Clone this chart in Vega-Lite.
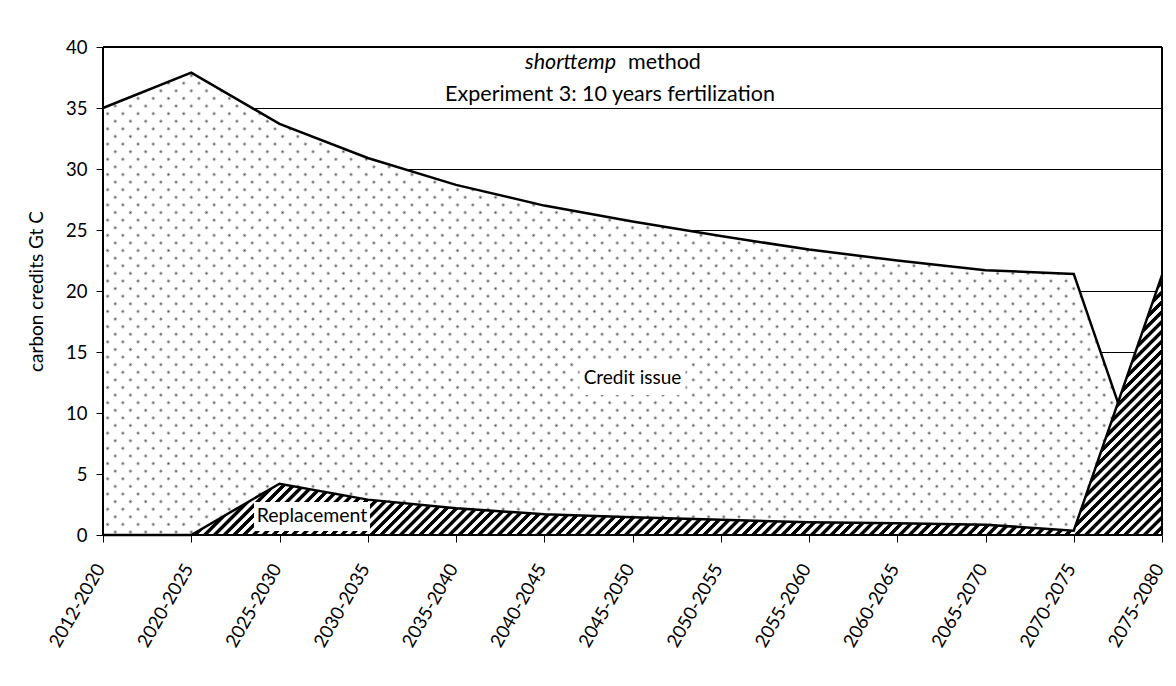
{
"$schema":"https://vega.github.io/schema/vega-lite/v6.json",
"width":1059,"height":488,
"autosize":{"type":"none"},
"padding":{"left":103,"top":47,"right":14,"bottom":151},
"background":"white",
"config":{"view":{"stroke":null},"font":"Lato"},
"data":{"values":[
{"period":"2012-2020","credit":35.0,"replacement":0},
{"period":"2020-2025","credit":37.9,"replacement":0},
{"period":"2025-2030","credit":33.7,"replacement":4.2},
{"period":"2030-2035","credit":30.9,"replacement":2.9},
{"period":"2035-2040","credit":28.7,"replacement":2.2},
{"period":"2040-2045","credit":27.0,"replacement":1.7},
{"period":"2045-2050","credit":25.7,"replacement":1.45},
{"period":"2050-2055","credit":24.5,"replacement":1.25},
{"period":"2055-2060","credit":23.4,"replacement":1.05},
{"period":"2060-2065","credit":22.5,"replacement":0.97},
{"period":"2065-2070","credit":21.7,"replacement":0.85},
{"period":"2070-2075","credit":21.4,"replacement":0.35},
{"period":"2075-2080","credit":0.35,"replacement":21.3}
]},
"layer":[
{"mark":{"type":"area","interpolate":"linear","fill":{"gradient":"linear","x1":0,"y1":0,"x2":1.2066,"y2":0.52683,"stops":[
{"offset":0.00,"color":"#444"},{"offset":0.002,"color":"#fff"},{"offset":0.008,"color":"#fff"},
{"offset":0.01,"color":"#444"},{"offset":0.012,"color":"#fff"},{"offset":0.018,"color":"#fff"},
{"offset":0.02,"color":"#444"},{"offset":0.022,"color":"#fff"},{"offset":0.028,"color":"#fff"},
{"offset":0.03,"color":"#444"},{"offset":0.032,"color":"#fff"},{"offset":0.038,"color":"#fff"},
{"offset":0.04,"color":"#444"},{"offset":0.042,"color":"#fff"},{"offset":0.048,"color":"#fff"},
{"offset":0.05,"color":"#444"},{"offset":0.052,"color":"#fff"},{"offset":0.058,"color":"#fff"},
{"offset":0.06,"color":"#444"},{"offset":0.062,"color":"#fff"},{"offset":0.068,"color":"#fff"},
{"offset":0.07,"color":"#444"},{"offset":0.072,"color":"#fff"},{"offset":0.078,"color":"#fff"},
{"offset":0.08,"color":"#444"},{"offset":0.082,"color":"#fff"},{"offset":0.088,"color":"#fff"},
{"offset":0.09,"color":"#444"},{"offset":0.092,"color":"#fff"},{"offset":0.098,"color":"#fff"},
{"offset":0.10,"color":"#444"},{"offset":0.102,"color":"#fff"},{"offset":0.108,"color":"#fff"},
{"offset":0.11,"color":"#444"},{"offset":0.112,"color":"#fff"},{"offset":0.118,"color":"#fff"},
{"offset":0.12,"color":"#444"},{"offset":0.122,"color":"#fff"},{"offset":0.128,"color":"#fff"},
{"offset":0.13,"color":"#444"},{"offset":0.132,"color":"#fff"},{"offset":0.138,"color":"#fff"},
{"offset":0.14,"color":"#444"},{"offset":0.142,"color":"#fff"},{"offset":0.148,"color":"#fff"},
{"offset":0.15,"color":"#444"},{"offset":0.152,"color":"#fff"},{"offset":0.158,"color":"#fff"},
{"offset":0.16,"color":"#444"},{"offset":0.162,"color":"#fff"},{"offset":0.168,"color":"#fff"},
{"offset":0.17,"color":"#444"},{"offset":0.172,"color":"#fff"},{"offset":0.178,"color":"#fff"},
{"offset":0.18,"color":"#444"},{"offset":0.182,"color":"#fff"},{"offset":0.188,"color":"#fff"},
{"offset":0.19,"color":"#444"},{"offset":0.192,"color":"#fff"},{"offset":0.198,"color":"#fff"},
{"offset":0.20,"color":"#444"},{"offset":0.202,"color":"#fff"},{"offset":0.208,"color":"#fff"},
{"offset":0.21,"color":"#444"},{"offset":0.212,"color":"#fff"},{"offset":0.218,"color":"#fff"},
{"offset":0.22,"color":"#444"},{"offset":0.222,"color":"#fff"},{"offset":0.228,"color":"#fff"},
{"offset":0.23,"color":"#444"},{"offset":0.232,"color":"#fff"},{"offset":0.238,"color":"#fff"},
{"offset":0.24,"color":"#444"},{"offset":0.242,"color":"#fff"},{"offset":0.248,"color":"#fff"},
{"offset":0.25,"color":"#444"},{"offset":0.252,"color":"#fff"},{"offset":0.258,"color":"#fff"},
{"offset":0.26,"color":"#444"},{"offset":0.262,"color":"#fff"},{"offset":0.268,"color":"#fff"},
{"offset":0.27,"color":"#444"},{"offset":0.272,"color":"#fff"},{"offset":0.278,"color":"#fff"},
{"offset":0.28,"color":"#444"},{"offset":0.282,"color":"#fff"},{"offset":0.288,"color":"#fff"},
{"offset":0.29,"color":"#444"},{"offset":0.292,"color":"#fff"},{"offset":0.298,"color":"#fff"},
{"offset":0.30,"color":"#444"},{"offset":0.302,"color":"#fff"},{"offset":0.308,"color":"#fff"},
{"offset":0.31,"color":"#444"},{"offset":0.312,"color":"#fff"},{"offset":0.318,"color":"#fff"},
{"offset":0.32,"color":"#444"},{"offset":0.322,"color":"#fff"},{"offset":0.328,"color":"#fff"},
{"offset":0.33,"color":"#444"},{"offset":0.332,"color":"#fff"},{"offset":0.338,"color":"#fff"},
{"offset":0.34,"color":"#444"},{"offset":0.342,"color":"#fff"},{"offset":0.348,"color":"#fff"},
{"offset":0.35,"color":"#444"},{"offset":0.352,"color":"#fff"},{"offset":0.358,"color":"#fff"},
{"offset":0.36,"color":"#444"},{"offset":0.362,"color":"#fff"},{"offset":0.368,"color":"#fff"},
{"offset":0.37,"color":"#444"},{"offset":0.372,"color":"#fff"},{"offset":0.378,"color":"#fff"},
{"offset":0.38,"color":"#444"},{"offset":0.382,"color":"#fff"},{"offset":0.388,"color":"#fff"},
{"offset":0.39,"color":"#444"},{"offset":0.392,"color":"#fff"},{"offset":0.398,"color":"#fff"},
{"offset":0.40,"color":"#444"},{"offset":0.402,"color":"#fff"},{"offset":0.408,"color":"#fff"},
{"offset":0.41,"color":"#444"},{"offset":0.412,"color":"#fff"},{"offset":0.418,"color":"#fff"},
{"offset":0.42,"color":"#444"},{"offset":0.422,"color":"#fff"},{"offset":0.428,"color":"#fff"},
{"offset":0.43,"color":"#444"},{"offset":0.432,"color":"#fff"},{"offset":0.438,"color":"#fff"},
{"offset":0.44,"color":"#444"},{"offset":0.442,"color":"#fff"},{"offset":0.448,"color":"#fff"},
{"offset":0.45,"color":"#444"},{"offset":0.452,"color":"#fff"},{"offset":0.458,"color":"#fff"},
{"offset":0.46,"color":"#444"},{"offset":0.462,"color":"#fff"},{"offset":0.468,"color":"#fff"},
{"offset":0.47,"color":"#444"},{"offset":0.472,"color":"#fff"},{"offset":0.478,"color":"#fff"},
{"offset":0.48,"color":"#444"},{"offset":0.482,"color":"#fff"},{"offset":0.488,"color":"#fff"},
{"offset":0.49,"color":"#444"},{"offset":0.492,"color":"#fff"},{"offset":0.498,"color":"#fff"},
{"offset":0.50,"color":"#444"},{"offset":0.502,"color":"#fff"},{"offset":0.508,"color":"#fff"},
{"offset":0.51,"color":"#444"},{"offset":0.512,"color":"#fff"},{"offset":0.518,"color":"#fff"},
{"offset":0.52,"color":"#444"},{"offset":0.522,"color":"#fff"},{"offset":0.528,"color":"#fff"},
{"offset":0.53,"color":"#444"},{"offset":0.532,"color":"#fff"},{"offset":0.538,"color":"#fff"},
{"offset":0.54,"color":"#444"},{"offset":0.542,"color":"#fff"},{"offset":0.548,"color":"#fff"},
{"offset":0.55,"color":"#444"},{"offset":0.552,"color":"#fff"},{"offset":0.558,"color":"#fff"},
{"offset":0.56,"color":"#444"},{"offset":0.562,"color":"#fff"},{"offset":0.568,"color":"#fff"},
{"offset":0.57,"color":"#444"},{"offset":0.572,"color":"#fff"},{"offset":0.578,"color":"#fff"},
{"offset":0.58,"color":"#444"},{"offset":0.582,"color":"#fff"},{"offset":0.588,"color":"#fff"},
{"offset":0.59,"color":"#444"},{"offset":0.592,"color":"#fff"},{"offset":0.598,"color":"#fff"},
{"offset":0.60,"color":"#444"},{"offset":0.602,"color":"#fff"},{"offset":0.608,"color":"#fff"},
{"offset":0.61,"color":"#444"},{"offset":0.612,"color":"#fff"},{"offset":0.618,"color":"#fff"},
{"offset":0.62,"color":"#444"},{"offset":0.622,"color":"#fff"},{"offset":0.628,"color":"#fff"},
{"offset":0.63,"color":"#444"},{"offset":0.632,"color":"#fff"},{"offset":0.638,"color":"#fff"},
{"offset":0.64,"color":"#444"},{"offset":0.642,"color":"#fff"},{"offset":0.648,"color":"#fff"},
{"offset":0.65,"color":"#444"},{"offset":0.652,"color":"#fff"},{"offset":0.658,"color":"#fff"},
{"offset":0.66,"color":"#444"},{"offset":0.662,"color":"#fff"},{"offset":0.668,"color":"#fff"},
{"offset":0.67,"color":"#444"},{"offset":0.672,"color":"#fff"},{"offset":0.678,"color":"#fff"},
{"offset":0.68,"color":"#444"},{"offset":0.682,"color":"#fff"},{"offset":0.688,"color":"#fff"},
{"offset":0.69,"color":"#444"},{"offset":0.692,"color":"#fff"},{"offset":0.698,"color":"#fff"},
{"offset":0.70,"color":"#444"},{"offset":0.702,"color":"#fff"},{"offset":0.708,"color":"#fff"},
{"offset":0.71,"color":"#444"},{"offset":0.712,"color":"#fff"},{"offset":0.718,"color":"#fff"},
{"offset":0.72,"color":"#444"},{"offset":0.722,"color":"#fff"},{"offset":0.728,"color":"#fff"},
{"offset":0.73,"color":"#444"},{"offset":0.732,"color":"#fff"},{"offset":0.738,"color":"#fff"},
{"offset":0.74,"color":"#444"},{"offset":0.742,"color":"#fff"},{"offset":0.748,"color":"#fff"},
{"offset":0.75,"color":"#444"},{"offset":0.752,"color":"#fff"},{"offset":0.758,"color":"#fff"},
{"offset":0.76,"color":"#444"},{"offset":0.762,"color":"#fff"},{"offset":0.768,"color":"#fff"},
{"offset":0.77,"color":"#444"},{"offset":0.772,"color":"#fff"},{"offset":0.778,"color":"#fff"},
{"offset":0.78,"color":"#444"},{"offset":0.782,"color":"#fff"},{"offset":0.788,"color":"#fff"},
{"offset":0.79,"color":"#444"},{"offset":0.792,"color":"#fff"},{"offset":0.798,"color":"#fff"},
{"offset":0.80,"color":"#444"},{"offset":0.802,"color":"#fff"},{"offset":0.808,"color":"#fff"},
{"offset":0.81,"color":"#444"},{"offset":0.812,"color":"#fff"},{"offset":0.818,"color":"#fff"},
{"offset":0.82,"color":"#444"},{"offset":0.822,"color":"#fff"},{"offset":0.828,"color":"#fff"},
{"offset":0.83,"color":"#444"},{"offset":0.832,"color":"#fff"},{"offset":0.838,"color":"#fff"},
{"offset":0.84,"color":"#444"},{"offset":0.842,"color":"#fff"},{"offset":0.848,"color":"#fff"},
{"offset":0.85,"color":"#444"},{"offset":0.852,"color":"#fff"},{"offset":0.858,"color":"#fff"},
{"offset":0.86,"color":"#444"},{"offset":0.862,"color":"#fff"},{"offset":0.868,"color":"#fff"},
{"offset":0.87,"color":"#444"},{"offset":0.872,"color":"#fff"},{"offset":0.878,"color":"#fff"},
{"offset":0.88,"color":"#444"},{"offset":0.882,"color":"#fff"},{"offset":0.888,"color":"#fff"},
{"offset":0.89,"color":"#444"},{"offset":0.892,"color":"#fff"},{"offset":0.898,"color":"#fff"},
{"offset":0.90,"color":"#444"},{"offset":0.902,"color":"#fff"},{"offset":0.908,"color":"#fff"},
{"offset":0.91,"color":"#444"},{"offset":0.912,"color":"#fff"},{"offset":0.918,"color":"#fff"},
{"offset":0.92,"color":"#444"},{"offset":0.922,"color":"#fff"},{"offset":0.928,"color":"#fff"},
{"offset":0.93,"color":"#444"},{"offset":0.932,"color":"#fff"},{"offset":0.938,"color":"#fff"},
{"offset":0.94,"color":"#444"},{"offset":0.942,"color":"#fff"},{"offset":0.948,"color":"#fff"},
{"offset":0.95,"color":"#444"},{"offset":0.952,"color":"#fff"},{"offset":0.958,"color":"#fff"},
{"offset":0.96,"color":"#444"},{"offset":0.962,"color":"#fff"},{"offset":0.968,"color":"#fff"},
{"offset":0.97,"color":"#444"},{"offset":0.972,"color":"#fff"},{"offset":0.978,"color":"#fff"},
{"offset":0.98,"color":"#444"},{"offset":0.982,"color":"#fff"},{"offset":0.988,"color":"#fff"},
{"offset":0.99,"color":"#444"},{"offset":0.992,"color":"#fff"},{"offset":0.998,"color":"#fff"},
{"offset":1,"color":"#444"}]}},
 "encoding":{
  "x":{"field":"period","type":"ordinal","sort":null,"scale":{"type":"point","padding":0},
   "axis":{"title":null,"domain":false,"labelAngle":-60,"labelAlign":"right","labelBaseline":"middle","labelPadding":23,"labelOffset":-3,"labelFontSize":18.5,"labelFont":"Lato","labelColor":"#000","tickColor":"#000","tickSize":7,"tickWidth":1,"labelOverlap":false,"grid":false}},
  "y":{"field":"credit","type":"quantitative","scale":{"domain":[0,40],"nice":false},
   "axis":{"title":"carbon credits Gt C","values":[0,5,10,15,20,25,30,35,40],"domain":false,"grid":true,"gridColor":"#000","gridOpacity":1,"gridWidth":1,"tickColor":"#000","tickSize":7,"tickWidth":1,"labelFontSize":18.5,"labelFont":"Lato","labelColor":"#000","labelPadding":9,"titleFont":"Lato","titleFontSize":19,"titleFontWeight":"normal","titleColor":"#000","titlePadding":19}}
 }},
{"mark":{"type":"area","interpolate":"linear","fill":{"gradient":"linear","x1":0,"y1":1,"x2":1.2066,"y2":0.47317,"stops":[
{"offset":0.00,"color":"rgba(255,255,255,0)"},{"offset":0.002,"color":"#fff"},{"offset":0.008,"color":"#fff"},
{"offset":0.01,"color":"rgba(255,255,255,0)"},{"offset":0.012,"color":"#fff"},{"offset":0.018,"color":"#fff"},
{"offset":0.02,"color":"rgba(255,255,255,0)"},{"offset":0.022,"color":"#fff"},{"offset":0.028,"color":"#fff"},
{"offset":0.03,"color":"rgba(255,255,255,0)"},{"offset":0.032,"color":"#fff"},{"offset":0.038,"color":"#fff"},
{"offset":0.04,"color":"rgba(255,255,255,0)"},{"offset":0.042,"color":"#fff"},{"offset":0.048,"color":"#fff"},
{"offset":0.05,"color":"rgba(255,255,255,0)"},{"offset":0.052,"color":"#fff"},{"offset":0.058,"color":"#fff"},
{"offset":0.06,"color":"rgba(255,255,255,0)"},{"offset":0.062,"color":"#fff"},{"offset":0.068,"color":"#fff"},
{"offset":0.07,"color":"rgba(255,255,255,0)"},{"offset":0.072,"color":"#fff"},{"offset":0.078,"color":"#fff"},
{"offset":0.08,"color":"rgba(255,255,255,0)"},{"offset":0.082,"color":"#fff"},{"offset":0.088,"color":"#fff"},
{"offset":0.09,"color":"rgba(255,255,255,0)"},{"offset":0.092,"color":"#fff"},{"offset":0.098,"color":"#fff"},
{"offset":0.10,"color":"rgba(255,255,255,0)"},{"offset":0.102,"color":"#fff"},{"offset":0.108,"color":"#fff"},
{"offset":0.11,"color":"rgba(255,255,255,0)"},{"offset":0.112,"color":"#fff"},{"offset":0.118,"color":"#fff"},
{"offset":0.12,"color":"rgba(255,255,255,0)"},{"offset":0.122,"color":"#fff"},{"offset":0.128,"color":"#fff"},
{"offset":0.13,"color":"rgba(255,255,255,0)"},{"offset":0.132,"color":"#fff"},{"offset":0.138,"color":"#fff"},
{"offset":0.14,"color":"rgba(255,255,255,0)"},{"offset":0.142,"color":"#fff"},{"offset":0.148,"color":"#fff"},
{"offset":0.15,"color":"rgba(255,255,255,0)"},{"offset":0.152,"color":"#fff"},{"offset":0.158,"color":"#fff"},
{"offset":0.16,"color":"rgba(255,255,255,0)"},{"offset":0.162,"color":"#fff"},{"offset":0.168,"color":"#fff"},
{"offset":0.17,"color":"rgba(255,255,255,0)"},{"offset":0.172,"color":"#fff"},{"offset":0.178,"color":"#fff"},
{"offset":0.18,"color":"rgba(255,255,255,0)"},{"offset":0.182,"color":"#fff"},{"offset":0.188,"color":"#fff"},
{"offset":0.19,"color":"rgba(255,255,255,0)"},{"offset":0.192,"color":"#fff"},{"offset":0.198,"color":"#fff"},
{"offset":0.20,"color":"rgba(255,255,255,0)"},{"offset":0.202,"color":"#fff"},{"offset":0.208,"color":"#fff"},
{"offset":0.21,"color":"rgba(255,255,255,0)"},{"offset":0.212,"color":"#fff"},{"offset":0.218,"color":"#fff"},
{"offset":0.22,"color":"rgba(255,255,255,0)"},{"offset":0.222,"color":"#fff"},{"offset":0.228,"color":"#fff"},
{"offset":0.23,"color":"rgba(255,255,255,0)"},{"offset":0.232,"color":"#fff"},{"offset":0.238,"color":"#fff"},
{"offset":0.24,"color":"rgba(255,255,255,0)"},{"offset":0.242,"color":"#fff"},{"offset":0.248,"color":"#fff"},
{"offset":0.25,"color":"rgba(255,255,255,0)"},{"offset":0.252,"color":"#fff"},{"offset":0.258,"color":"#fff"},
{"offset":0.26,"color":"rgba(255,255,255,0)"},{"offset":0.262,"color":"#fff"},{"offset":0.268,"color":"#fff"},
{"offset":0.27,"color":"rgba(255,255,255,0)"},{"offset":0.272,"color":"#fff"},{"offset":0.278,"color":"#fff"},
{"offset":0.28,"color":"rgba(255,255,255,0)"},{"offset":0.282,"color":"#fff"},{"offset":0.288,"color":"#fff"},
{"offset":0.29,"color":"rgba(255,255,255,0)"},{"offset":0.292,"color":"#fff"},{"offset":0.298,"color":"#fff"},
{"offset":0.30,"color":"rgba(255,255,255,0)"},{"offset":0.302,"color":"#fff"},{"offset":0.308,"color":"#fff"},
{"offset":0.31,"color":"rgba(255,255,255,0)"},{"offset":0.312,"color":"#fff"},{"offset":0.318,"color":"#fff"},
{"offset":0.32,"color":"rgba(255,255,255,0)"},{"offset":0.322,"color":"#fff"},{"offset":0.328,"color":"#fff"},
{"offset":0.33,"color":"rgba(255,255,255,0)"},{"offset":0.332,"color":"#fff"},{"offset":0.338,"color":"#fff"},
{"offset":0.34,"color":"rgba(255,255,255,0)"},{"offset":0.342,"color":"#fff"},{"offset":0.348,"color":"#fff"},
{"offset":0.35,"color":"rgba(255,255,255,0)"},{"offset":0.352,"color":"#fff"},{"offset":0.358,"color":"#fff"},
{"offset":0.36,"color":"rgba(255,255,255,0)"},{"offset":0.362,"color":"#fff"},{"offset":0.368,"color":"#fff"},
{"offset":0.37,"color":"rgba(255,255,255,0)"},{"offset":0.372,"color":"#fff"},{"offset":0.378,"color":"#fff"},
{"offset":0.38,"color":"rgba(255,255,255,0)"},{"offset":0.382,"color":"#fff"},{"offset":0.388,"color":"#fff"},
{"offset":0.39,"color":"rgba(255,255,255,0)"},{"offset":0.392,"color":"#fff"},{"offset":0.398,"color":"#fff"},
{"offset":0.40,"color":"rgba(255,255,255,0)"},{"offset":0.402,"color":"#fff"},{"offset":0.408,"color":"#fff"},
{"offset":0.41,"color":"rgba(255,255,255,0)"},{"offset":0.412,"color":"#fff"},{"offset":0.418,"color":"#fff"},
{"offset":0.42,"color":"rgba(255,255,255,0)"},{"offset":0.422,"color":"#fff"},{"offset":0.428,"color":"#fff"},
{"offset":0.43,"color":"rgba(255,255,255,0)"},{"offset":0.432,"color":"#fff"},{"offset":0.438,"color":"#fff"},
{"offset":0.44,"color":"rgba(255,255,255,0)"},{"offset":0.442,"color":"#fff"},{"offset":0.448,"color":"#fff"},
{"offset":0.45,"color":"rgba(255,255,255,0)"},{"offset":0.452,"color":"#fff"},{"offset":0.458,"color":"#fff"},
{"offset":0.46,"color":"rgba(255,255,255,0)"},{"offset":0.462,"color":"#fff"},{"offset":0.468,"color":"#fff"},
{"offset":0.47,"color":"rgba(255,255,255,0)"},{"offset":0.472,"color":"#fff"},{"offset":0.478,"color":"#fff"},
{"offset":0.48,"color":"rgba(255,255,255,0)"},{"offset":0.482,"color":"#fff"},{"offset":0.488,"color":"#fff"},
{"offset":0.49,"color":"rgba(255,255,255,0)"},{"offset":0.492,"color":"#fff"},{"offset":0.498,"color":"#fff"},
{"offset":0.50,"color":"rgba(255,255,255,0)"},{"offset":0.502,"color":"#fff"},{"offset":0.508,"color":"#fff"},
{"offset":0.51,"color":"rgba(255,255,255,0)"},{"offset":0.512,"color":"#fff"},{"offset":0.518,"color":"#fff"},
{"offset":0.52,"color":"rgba(255,255,255,0)"},{"offset":0.522,"color":"#fff"},{"offset":0.528,"color":"#fff"},
{"offset":0.53,"color":"rgba(255,255,255,0)"},{"offset":0.532,"color":"#fff"},{"offset":0.538,"color":"#fff"},
{"offset":0.54,"color":"rgba(255,255,255,0)"},{"offset":0.542,"color":"#fff"},{"offset":0.548,"color":"#fff"},
{"offset":0.55,"color":"rgba(255,255,255,0)"},{"offset":0.552,"color":"#fff"},{"offset":0.558,"color":"#fff"},
{"offset":0.56,"color":"rgba(255,255,255,0)"},{"offset":0.562,"color":"#fff"},{"offset":0.568,"color":"#fff"},
{"offset":0.57,"color":"rgba(255,255,255,0)"},{"offset":0.572,"color":"#fff"},{"offset":0.578,"color":"#fff"},
{"offset":0.58,"color":"rgba(255,255,255,0)"},{"offset":0.582,"color":"#fff"},{"offset":0.588,"color":"#fff"},
{"offset":0.59,"color":"rgba(255,255,255,0)"},{"offset":0.592,"color":"#fff"},{"offset":0.598,"color":"#fff"},
{"offset":0.60,"color":"rgba(255,255,255,0)"},{"offset":0.602,"color":"#fff"},{"offset":0.608,"color":"#fff"},
{"offset":0.61,"color":"rgba(255,255,255,0)"},{"offset":0.612,"color":"#fff"},{"offset":0.618,"color":"#fff"},
{"offset":0.62,"color":"rgba(255,255,255,0)"},{"offset":0.622,"color":"#fff"},{"offset":0.628,"color":"#fff"},
{"offset":0.63,"color":"rgba(255,255,255,0)"},{"offset":0.632,"color":"#fff"},{"offset":0.638,"color":"#fff"},
{"offset":0.64,"color":"rgba(255,255,255,0)"},{"offset":0.642,"color":"#fff"},{"offset":0.648,"color":"#fff"},
{"offset":0.65,"color":"rgba(255,255,255,0)"},{"offset":0.652,"color":"#fff"},{"offset":0.658,"color":"#fff"},
{"offset":0.66,"color":"rgba(255,255,255,0)"},{"offset":0.662,"color":"#fff"},{"offset":0.668,"color":"#fff"},
{"offset":0.67,"color":"rgba(255,255,255,0)"},{"offset":0.672,"color":"#fff"},{"offset":0.678,"color":"#fff"},
{"offset":0.68,"color":"rgba(255,255,255,0)"},{"offset":0.682,"color":"#fff"},{"offset":0.688,"color":"#fff"},
{"offset":0.69,"color":"rgba(255,255,255,0)"},{"offset":0.692,"color":"#fff"},{"offset":0.698,"color":"#fff"},
{"offset":0.70,"color":"rgba(255,255,255,0)"},{"offset":0.702,"color":"#fff"},{"offset":0.708,"color":"#fff"},
{"offset":0.71,"color":"rgba(255,255,255,0)"},{"offset":0.712,"color":"#fff"},{"offset":0.718,"color":"#fff"},
{"offset":0.72,"color":"rgba(255,255,255,0)"},{"offset":0.722,"color":"#fff"},{"offset":0.728,"color":"#fff"},
{"offset":0.73,"color":"rgba(255,255,255,0)"},{"offset":0.732,"color":"#fff"},{"offset":0.738,"color":"#fff"},
{"offset":0.74,"color":"rgba(255,255,255,0)"},{"offset":0.742,"color":"#fff"},{"offset":0.748,"color":"#fff"},
{"offset":0.75,"color":"rgba(255,255,255,0)"},{"offset":0.752,"color":"#fff"},{"offset":0.758,"color":"#fff"},
{"offset":0.76,"color":"rgba(255,255,255,0)"},{"offset":0.762,"color":"#fff"},{"offset":0.768,"color":"#fff"},
{"offset":0.77,"color":"rgba(255,255,255,0)"},{"offset":0.772,"color":"#fff"},{"offset":0.778,"color":"#fff"},
{"offset":0.78,"color":"rgba(255,255,255,0)"},{"offset":0.782,"color":"#fff"},{"offset":0.788,"color":"#fff"},
{"offset":0.79,"color":"rgba(255,255,255,0)"},{"offset":0.792,"color":"#fff"},{"offset":0.798,"color":"#fff"},
{"offset":0.80,"color":"rgba(255,255,255,0)"},{"offset":0.802,"color":"#fff"},{"offset":0.808,"color":"#fff"},
{"offset":0.81,"color":"rgba(255,255,255,0)"},{"offset":0.812,"color":"#fff"},{"offset":0.818,"color":"#fff"},
{"offset":0.82,"color":"rgba(255,255,255,0)"},{"offset":0.822,"color":"#fff"},{"offset":0.828,"color":"#fff"},
{"offset":0.83,"color":"rgba(255,255,255,0)"},{"offset":0.832,"color":"#fff"},{"offset":0.838,"color":"#fff"},
{"offset":0.84,"color":"rgba(255,255,255,0)"},{"offset":0.842,"color":"#fff"},{"offset":0.848,"color":"#fff"},
{"offset":0.85,"color":"rgba(255,255,255,0)"},{"offset":0.852,"color":"#fff"},{"offset":0.858,"color":"#fff"},
{"offset":0.86,"color":"rgba(255,255,255,0)"},{"offset":0.862,"color":"#fff"},{"offset":0.868,"color":"#fff"},
{"offset":0.87,"color":"rgba(255,255,255,0)"},{"offset":0.872,"color":"#fff"},{"offset":0.878,"color":"#fff"},
{"offset":0.88,"color":"rgba(255,255,255,0)"},{"offset":0.882,"color":"#fff"},{"offset":0.888,"color":"#fff"},
{"offset":0.89,"color":"rgba(255,255,255,0)"},{"offset":0.892,"color":"#fff"},{"offset":0.898,"color":"#fff"},
{"offset":0.90,"color":"rgba(255,255,255,0)"},{"offset":0.902,"color":"#fff"},{"offset":0.908,"color":"#fff"},
{"offset":0.91,"color":"rgba(255,255,255,0)"},{"offset":0.912,"color":"#fff"},{"offset":0.918,"color":"#fff"},
{"offset":0.92,"color":"rgba(255,255,255,0)"},{"offset":0.922,"color":"#fff"},{"offset":0.928,"color":"#fff"},
{"offset":0.93,"color":"rgba(255,255,255,0)"},{"offset":0.932,"color":"#fff"},{"offset":0.938,"color":"#fff"},
{"offset":0.94,"color":"rgba(255,255,255,0)"},{"offset":0.942,"color":"#fff"},{"offset":0.948,"color":"#fff"},
{"offset":0.95,"color":"rgba(255,255,255,0)"},{"offset":0.952,"color":"#fff"},{"offset":0.958,"color":"#fff"},
{"offset":0.96,"color":"rgba(255,255,255,0)"},{"offset":0.962,"color":"#fff"},{"offset":0.968,"color":"#fff"},
{"offset":0.97,"color":"rgba(255,255,255,0)"},{"offset":0.972,"color":"#fff"},{"offset":0.978,"color":"#fff"},
{"offset":0.98,"color":"rgba(255,255,255,0)"},{"offset":0.982,"color":"#fff"},{"offset":0.988,"color":"#fff"},
{"offset":0.99,"color":"rgba(255,255,255,0)"},{"offset":0.992,"color":"#fff"},{"offset":0.998,"color":"#fff"},
{"offset":1,"color":"rgba(255,255,255,0)"}]}},
 "encoding":{"x":{"field":"period","type":"ordinal","sort":null},"y":{"field":"credit","type":"quantitative"}}},
{"mark":{"type":"line","interpolate":"linear","color":"#000","strokeWidth":2.5},
 "encoding":{"x":{"field":"period","type":"ordinal","sort":null},"y":{"field":"credit","type":"quantitative"}}},
{"mark":{"type":"area","interpolate":"linear","fill":{"gradient":"linear","x1":0.32106,"y1":0,"x2":1.19289,"y2":0.21393,"stops":[
{"offset":0.00,"color":"#000"},{"offset":0.004,"color":"#000"},{"offset":0.005,"color":"#fff"},{"offset":0.009,"color":"#fff"},
{"offset":0.01,"color":"#000"},{"offset":0.014,"color":"#000"},{"offset":0.015,"color":"#fff"},{"offset":0.019,"color":"#fff"},
{"offset":0.02,"color":"#000"},{"offset":0.024,"color":"#000"},{"offset":0.025,"color":"#fff"},{"offset":0.029,"color":"#fff"},
{"offset":0.03,"color":"#000"},{"offset":0.034,"color":"#000"},{"offset":0.035,"color":"#fff"},{"offset":0.039,"color":"#fff"},
{"offset":0.04,"color":"#000"},{"offset":0.044,"color":"#000"},{"offset":0.045,"color":"#fff"},{"offset":0.049,"color":"#fff"},
{"offset":0.05,"color":"#000"},{"offset":0.054,"color":"#000"},{"offset":0.055,"color":"#fff"},{"offset":0.059,"color":"#fff"},
{"offset":0.06,"color":"#000"},{"offset":0.064,"color":"#000"},{"offset":0.065,"color":"#fff"},{"offset":0.069,"color":"#fff"},
{"offset":0.07,"color":"#000"},{"offset":0.074,"color":"#000"},{"offset":0.075,"color":"#fff"},{"offset":0.079,"color":"#fff"},
{"offset":0.08,"color":"#000"},{"offset":0.084,"color":"#000"},{"offset":0.085,"color":"#fff"},{"offset":0.089,"color":"#fff"},
{"offset":0.09,"color":"#000"},{"offset":0.094,"color":"#000"},{"offset":0.095,"color":"#fff"},{"offset":0.099,"color":"#fff"},
{"offset":0.10,"color":"#000"},{"offset":0.104,"color":"#000"},{"offset":0.105,"color":"#fff"},{"offset":0.109,"color":"#fff"},
{"offset":0.11,"color":"#000"},{"offset":0.114,"color":"#000"},{"offset":0.115,"color":"#fff"},{"offset":0.119,"color":"#fff"},
{"offset":0.12,"color":"#000"},{"offset":0.124,"color":"#000"},{"offset":0.125,"color":"#fff"},{"offset":0.129,"color":"#fff"},
{"offset":0.13,"color":"#000"},{"offset":0.134,"color":"#000"},{"offset":0.135,"color":"#fff"},{"offset":0.139,"color":"#fff"},
{"offset":0.14,"color":"#000"},{"offset":0.144,"color":"#000"},{"offset":0.145,"color":"#fff"},{"offset":0.149,"color":"#fff"},
{"offset":0.15,"color":"#000"},{"offset":0.154,"color":"#000"},{"offset":0.155,"color":"#fff"},{"offset":0.159,"color":"#fff"},
{"offset":0.16,"color":"#000"},{"offset":0.164,"color":"#000"},{"offset":0.165,"color":"#fff"},{"offset":0.169,"color":"#fff"},
{"offset":0.17,"color":"#000"},{"offset":0.174,"color":"#000"},{"offset":0.175,"color":"#fff"},{"offset":0.179,"color":"#fff"},
{"offset":0.18,"color":"#000"},{"offset":0.184,"color":"#000"},{"offset":0.185,"color":"#fff"},{"offset":0.189,"color":"#fff"},
{"offset":0.19,"color":"#000"},{"offset":0.194,"color":"#000"},{"offset":0.195,"color":"#fff"},{"offset":0.199,"color":"#fff"},
{"offset":0.20,"color":"#000"},{"offset":0.204,"color":"#000"},{"offset":0.205,"color":"#fff"},{"offset":0.209,"color":"#fff"},
{"offset":0.21,"color":"#000"},{"offset":0.214,"color":"#000"},{"offset":0.215,"color":"#fff"},{"offset":0.219,"color":"#fff"},
{"offset":0.22,"color":"#000"},{"offset":0.224,"color":"#000"},{"offset":0.225,"color":"#fff"},{"offset":0.229,"color":"#fff"},
{"offset":0.23,"color":"#000"},{"offset":0.234,"color":"#000"},{"offset":0.235,"color":"#fff"},{"offset":0.239,"color":"#fff"},
{"offset":0.24,"color":"#000"},{"offset":0.244,"color":"#000"},{"offset":0.245,"color":"#fff"},{"offset":0.249,"color":"#fff"},
{"offset":0.25,"color":"#000"},{"offset":0.254,"color":"#000"},{"offset":0.255,"color":"#fff"},{"offset":0.259,"color":"#fff"},
{"offset":0.26,"color":"#000"},{"offset":0.264,"color":"#000"},{"offset":0.265,"color":"#fff"},{"offset":0.269,"color":"#fff"},
{"offset":0.27,"color":"#000"},{"offset":0.274,"color":"#000"},{"offset":0.275,"color":"#fff"},{"offset":0.279,"color":"#fff"},
{"offset":0.28,"color":"#000"},{"offset":0.284,"color":"#000"},{"offset":0.285,"color":"#fff"},{"offset":0.289,"color":"#fff"},
{"offset":0.29,"color":"#000"},{"offset":0.294,"color":"#000"},{"offset":0.295,"color":"#fff"},{"offset":0.299,"color":"#fff"},
{"offset":0.30,"color":"#000"},{"offset":0.304,"color":"#000"},{"offset":0.305,"color":"#fff"},{"offset":0.309,"color":"#fff"},
{"offset":0.31,"color":"#000"},{"offset":0.314,"color":"#000"},{"offset":0.315,"color":"#fff"},{"offset":0.319,"color":"#fff"},
{"offset":0.32,"color":"#000"},{"offset":0.324,"color":"#000"},{"offset":0.325,"color":"#fff"},{"offset":0.329,"color":"#fff"},
{"offset":0.33,"color":"#000"},{"offset":0.334,"color":"#000"},{"offset":0.335,"color":"#fff"},{"offset":0.339,"color":"#fff"},
{"offset":0.34,"color":"#000"},{"offset":0.344,"color":"#000"},{"offset":0.345,"color":"#fff"},{"offset":0.349,"color":"#fff"},
{"offset":0.35,"color":"#000"},{"offset":0.354,"color":"#000"},{"offset":0.355,"color":"#fff"},{"offset":0.359,"color":"#fff"},
{"offset":0.36,"color":"#000"},{"offset":0.364,"color":"#000"},{"offset":0.365,"color":"#fff"},{"offset":0.369,"color":"#fff"},
{"offset":0.37,"color":"#000"},{"offset":0.374,"color":"#000"},{"offset":0.375,"color":"#fff"},{"offset":0.379,"color":"#fff"},
{"offset":0.38,"color":"#000"},{"offset":0.384,"color":"#000"},{"offset":0.385,"color":"#fff"},{"offset":0.389,"color":"#fff"},
{"offset":0.39,"color":"#000"},{"offset":0.394,"color":"#000"},{"offset":0.395,"color":"#fff"},{"offset":0.399,"color":"#fff"},
{"offset":0.40,"color":"#000"},{"offset":0.404,"color":"#000"},{"offset":0.405,"color":"#fff"},{"offset":0.409,"color":"#fff"},
{"offset":0.41,"color":"#000"},{"offset":0.414,"color":"#000"},{"offset":0.415,"color":"#fff"},{"offset":0.419,"color":"#fff"},
{"offset":0.42,"color":"#000"},{"offset":0.424,"color":"#000"},{"offset":0.425,"color":"#fff"},{"offset":0.429,"color":"#fff"},
{"offset":0.43,"color":"#000"},{"offset":0.434,"color":"#000"},{"offset":0.435,"color":"#fff"},{"offset":0.439,"color":"#fff"},
{"offset":0.44,"color":"#000"},{"offset":0.444,"color":"#000"},{"offset":0.445,"color":"#fff"},{"offset":0.449,"color":"#fff"},
{"offset":0.45,"color":"#000"},{"offset":0.454,"color":"#000"},{"offset":0.455,"color":"#fff"},{"offset":0.459,"color":"#fff"},
{"offset":0.46,"color":"#000"},{"offset":0.464,"color":"#000"},{"offset":0.465,"color":"#fff"},{"offset":0.469,"color":"#fff"},
{"offset":0.47,"color":"#000"},{"offset":0.474,"color":"#000"},{"offset":0.475,"color":"#fff"},{"offset":0.479,"color":"#fff"},
{"offset":0.48,"color":"#000"},{"offset":0.484,"color":"#000"},{"offset":0.485,"color":"#fff"},{"offset":0.489,"color":"#fff"},
{"offset":0.49,"color":"#000"},{"offset":0.494,"color":"#000"},{"offset":0.495,"color":"#fff"},{"offset":0.499,"color":"#fff"},
{"offset":0.50,"color":"#000"},{"offset":0.504,"color":"#000"},{"offset":0.505,"color":"#fff"},{"offset":0.509,"color":"#fff"},
{"offset":0.51,"color":"#000"},{"offset":0.514,"color":"#000"},{"offset":0.515,"color":"#fff"},{"offset":0.519,"color":"#fff"},
{"offset":0.52,"color":"#000"},{"offset":0.524,"color":"#000"},{"offset":0.525,"color":"#fff"},{"offset":0.529,"color":"#fff"},
{"offset":0.53,"color":"#000"},{"offset":0.534,"color":"#000"},{"offset":0.535,"color":"#fff"},{"offset":0.539,"color":"#fff"},
{"offset":0.54,"color":"#000"},{"offset":0.544,"color":"#000"},{"offset":0.545,"color":"#fff"},{"offset":0.549,"color":"#fff"},
{"offset":0.55,"color":"#000"},{"offset":0.554,"color":"#000"},{"offset":0.555,"color":"#fff"},{"offset":0.559,"color":"#fff"},
{"offset":0.56,"color":"#000"},{"offset":0.564,"color":"#000"},{"offset":0.565,"color":"#fff"},{"offset":0.569,"color":"#fff"},
{"offset":0.57,"color":"#000"},{"offset":0.574,"color":"#000"},{"offset":0.575,"color":"#fff"},{"offset":0.579,"color":"#fff"},
{"offset":0.58,"color":"#000"},{"offset":0.584,"color":"#000"},{"offset":0.585,"color":"#fff"},{"offset":0.589,"color":"#fff"},
{"offset":0.59,"color":"#000"},{"offset":0.594,"color":"#000"},{"offset":0.595,"color":"#fff"},{"offset":0.599,"color":"#fff"},
{"offset":0.60,"color":"#000"},{"offset":0.604,"color":"#000"},{"offset":0.605,"color":"#fff"},{"offset":0.609,"color":"#fff"},
{"offset":0.61,"color":"#000"},{"offset":0.614,"color":"#000"},{"offset":0.615,"color":"#fff"},{"offset":0.619,"color":"#fff"},
{"offset":0.62,"color":"#000"},{"offset":0.624,"color":"#000"},{"offset":0.625,"color":"#fff"},{"offset":0.629,"color":"#fff"},
{"offset":0.63,"color":"#000"},{"offset":0.634,"color":"#000"},{"offset":0.635,"color":"#fff"},{"offset":0.639,"color":"#fff"},
{"offset":0.64,"color":"#000"},{"offset":0.644,"color":"#000"},{"offset":0.645,"color":"#fff"},{"offset":0.649,"color":"#fff"},
{"offset":0.65,"color":"#000"},{"offset":0.654,"color":"#000"},{"offset":0.655,"color":"#fff"},{"offset":0.659,"color":"#fff"},
{"offset":0.66,"color":"#000"},{"offset":0.664,"color":"#000"},{"offset":0.665,"color":"#fff"},{"offset":0.669,"color":"#fff"},
{"offset":0.67,"color":"#000"},{"offset":0.674,"color":"#000"},{"offset":0.675,"color":"#fff"},{"offset":0.679,"color":"#fff"},
{"offset":0.68,"color":"#000"},{"offset":0.684,"color":"#000"},{"offset":0.685,"color":"#fff"},{"offset":0.689,"color":"#fff"},
{"offset":0.69,"color":"#000"},{"offset":0.694,"color":"#000"},{"offset":0.695,"color":"#fff"},{"offset":0.699,"color":"#fff"},
{"offset":0.70,"color":"#000"},{"offset":0.704,"color":"#000"},{"offset":0.705,"color":"#fff"},{"offset":0.709,"color":"#fff"},
{"offset":0.71,"color":"#000"},{"offset":0.714,"color":"#000"},{"offset":0.715,"color":"#fff"},{"offset":0.719,"color":"#fff"},
{"offset":0.72,"color":"#000"},{"offset":0.724,"color":"#000"},{"offset":0.725,"color":"#fff"},{"offset":0.729,"color":"#fff"},
{"offset":0.73,"color":"#000"},{"offset":0.734,"color":"#000"},{"offset":0.735,"color":"#fff"},{"offset":0.739,"color":"#fff"},
{"offset":0.74,"color":"#000"},{"offset":0.744,"color":"#000"},{"offset":0.745,"color":"#fff"},{"offset":0.749,"color":"#fff"},
{"offset":0.75,"color":"#000"},{"offset":0.754,"color":"#000"},{"offset":0.755,"color":"#fff"},{"offset":0.759,"color":"#fff"},
{"offset":0.76,"color":"#000"},{"offset":0.764,"color":"#000"},{"offset":0.765,"color":"#fff"},{"offset":0.769,"color":"#fff"},
{"offset":0.77,"color":"#000"},{"offset":0.774,"color":"#000"},{"offset":0.775,"color":"#fff"},{"offset":0.779,"color":"#fff"},
{"offset":0.78,"color":"#000"},{"offset":0.784,"color":"#000"},{"offset":0.785,"color":"#fff"},{"offset":0.789,"color":"#fff"},
{"offset":0.79,"color":"#000"},{"offset":0.794,"color":"#000"},{"offset":0.795,"color":"#fff"},{"offset":0.799,"color":"#fff"},
{"offset":0.80,"color":"#000"},{"offset":0.804,"color":"#000"},{"offset":0.805,"color":"#fff"},{"offset":0.809,"color":"#fff"},
{"offset":0.81,"color":"#000"},{"offset":0.814,"color":"#000"},{"offset":0.815,"color":"#fff"},{"offset":0.819,"color":"#fff"},
{"offset":0.82,"color":"#000"},{"offset":0.824,"color":"#000"},{"offset":0.825,"color":"#fff"},{"offset":0.829,"color":"#fff"},
{"offset":0.83,"color":"#000"},{"offset":0.834,"color":"#000"},{"offset":0.835,"color":"#fff"},{"offset":0.839,"color":"#fff"},
{"offset":0.84,"color":"#000"},{"offset":0.844,"color":"#000"},{"offset":0.845,"color":"#fff"},{"offset":0.849,"color":"#fff"},
{"offset":0.85,"color":"#000"},{"offset":0.854,"color":"#000"},{"offset":0.855,"color":"#fff"},{"offset":0.859,"color":"#fff"},
{"offset":0.86,"color":"#000"},{"offset":0.864,"color":"#000"},{"offset":0.865,"color":"#fff"},{"offset":0.869,"color":"#fff"},
{"offset":0.87,"color":"#000"},{"offset":0.874,"color":"#000"},{"offset":0.875,"color":"#fff"},{"offset":0.879,"color":"#fff"},
{"offset":0.88,"color":"#000"},{"offset":0.884,"color":"#000"},{"offset":0.885,"color":"#fff"},{"offset":0.889,"color":"#fff"},
{"offset":0.89,"color":"#000"},{"offset":0.894,"color":"#000"},{"offset":0.895,"color":"#fff"},{"offset":0.899,"color":"#fff"},
{"offset":0.90,"color":"#000"},{"offset":0.904,"color":"#000"},{"offset":0.905,"color":"#fff"},{"offset":0.909,"color":"#fff"},
{"offset":0.91,"color":"#000"},{"offset":0.914,"color":"#000"},{"offset":0.915,"color":"#fff"},{"offset":0.919,"color":"#fff"},
{"offset":0.92,"color":"#000"},{"offset":0.924,"color":"#000"},{"offset":0.925,"color":"#fff"},{"offset":0.929,"color":"#fff"},
{"offset":0.93,"color":"#000"},{"offset":0.934,"color":"#000"},{"offset":0.935,"color":"#fff"},{"offset":0.939,"color":"#fff"},
{"offset":0.94,"color":"#000"},{"offset":0.944,"color":"#000"},{"offset":0.945,"color":"#fff"},{"offset":0.949,"color":"#fff"},
{"offset":0.95,"color":"#000"},{"offset":0.954,"color":"#000"},{"offset":0.955,"color":"#fff"},{"offset":0.959,"color":"#fff"},
{"offset":0.96,"color":"#000"},{"offset":0.964,"color":"#000"},{"offset":0.965,"color":"#fff"},{"offset":0.969,"color":"#fff"},
{"offset":0.97,"color":"#000"},{"offset":0.974,"color":"#000"},{"offset":0.975,"color":"#fff"},{"offset":0.979,"color":"#fff"},
{"offset":0.98,"color":"#000"},{"offset":0.984,"color":"#000"},{"offset":0.985,"color":"#fff"},{"offset":0.989,"color":"#fff"},
{"offset":0.99,"color":"#000"},{"offset":0.994,"color":"#000"},{"offset":0.995,"color":"#fff"},{"offset":0.999,"color":"#fff"},
{"offset":1,"color":"#000"}]}},
 "encoding":{"x":{"field":"period","type":"ordinal","sort":null},"y":{"field":"replacement","type":"quantitative"}}},
{"mark":{"type":"line","interpolate":"linear","color":"#000","strokeWidth":2.5},
 "encoding":{"x":{"field":"period","type":"ordinal","sort":null},"y":{"field":"replacement","type":"quantitative"}}},
{"data":{"values":[{"label":"Credit issue"}]},
 "mark":{"type":"point","shape":"M-0.53,-0.165H0.53V0.165H-0.53Z","size":40000,"filled":true,"fill":"#fff","opacity":1,"strokeWidth":0},
 "encoding":{"x":{"datum":"2045-2050","type":"ordinal"},"y":{"datum":12.83,"type":"quantitative"}}},
{"data":{"values":[{"label":"Credit issue"}]},
 "mark":{"type":"text","font":"Lato","fontSize":19,"fill":"#000","align":"center","baseline":"middle"},
 "encoding":{"x":{"datum":"2045-2050","type":"ordinal"},"y":{"datum":12.83,"type":"quantitative"},"text":{"field":"label"}}},
{"data":{"values":[{"label":"Replacement"}]},
 "mark":{"type":"point","shape":"M-0.255,-0.145H0.905V0.145H-0.255Z","size":40000,"filled":true,"fill":"#fff","opacity":1,"strokeWidth":0},
 "encoding":{"x":{"datum":"2025-2030","type":"ordinal"},"y":{"datum":1.52,"type":"quantitative"}}},
{"data":{"values":[{"label":"Replacement"}]},
 "mark":{"type":"text","font":"Lato","fontSize":19.5,"fill":"#000","align":"center","baseline":"middle","dx":32.5},
 "encoding":{"x":{"datum":"2025-2030","type":"ordinal"},"y":{"datum":1.52,"type":"quantitative"},"text":{"field":"label"}}},
{"data":{"values":[{"label":"shorttemp"}]},
 "mark":{"type":"text","font":"Lato","fontSize":21.5,"fontStyle":"italic","fill":"#000","align":"right","baseline":"middle","dx":-16.5},
 "encoding":{"x":{"datum":"2045-2050","type":"ordinal"},"y":{"datum":38.69,"type":"quantitative"},"text":{"field":"label"}}},
{"data":{"values":[{"label":"method"}]},
 "mark":{"type":"text","font":"Lato","fontSize":21.5,"fill":"#000","align":"left","baseline":"middle","dx":-4.5},
 "encoding":{"x":{"datum":"2045-2050","type":"ordinal"},"y":{"datum":38.69,"type":"quantitative"},"text":{"field":"label"}}},
{"data":{"values":[{"label":"Experiment 3: 10 years fertilization"}]},
 "mark":{"type":"text","font":"Lato","fontSize":21.5,"fill":"#000","align":"center","baseline":"middle","dx":-22.5},
 "encoding":{"x":{"datum":"2045-2050","type":"ordinal"},"y":{"datum":36.07,"type":"quantitative"},"text":{"field":"label"}}},
{"data":{"values":[{}]},"mark":{"type":"rule","color":"#000","strokeWidth":2},"encoding":{"y":{"datum":0,"type":"quantitative"}}},
{"data":{"values":[{}]},"mark":{"type":"rule","color":"#000","strokeWidth":2},"encoding":{"y":{"datum":40,"type":"quantitative"}}},
{"data":{"values":[{}]},"mark":{"type":"rule","color":"#000","strokeWidth":2},"encoding":{"x":{"datum":"2012-2020","type":"ordinal"}}},
{"data":{"values":[{}]},"mark":{"type":"rule","color":"#000","strokeWidth":2},"encoding":{"x":{"datum":"2075-2080","type":"ordinal"}}}
]
}
